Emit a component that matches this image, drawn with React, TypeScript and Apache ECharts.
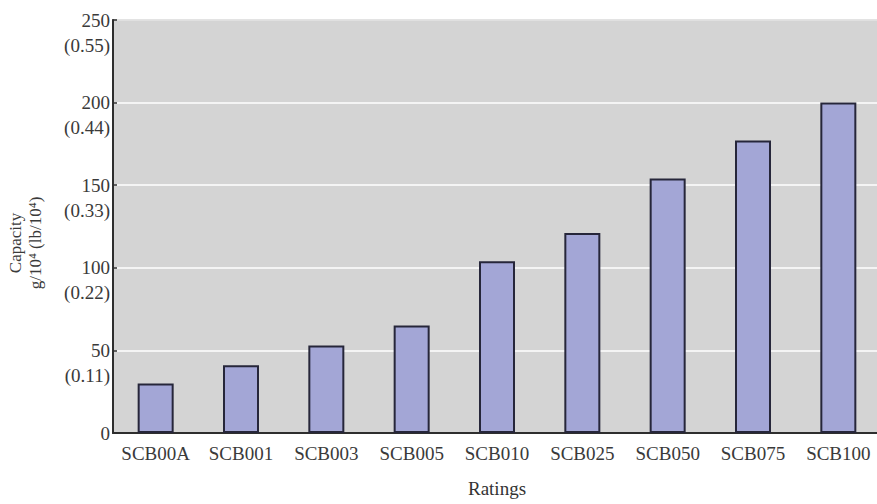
import React, { useEffect, useRef } from "react";
import * as echarts from "echarts";

const categories = ["SCB00A", "SCB001", "SCB003", "SCB005", "SCB010", "SCB025", "SCB050", "SCB075", "SCB100"];
const capacity = [30, 41, 53, 65, 104, 121, 154, 177, 200];
const yTicks = [0, 50, 100, 150, 200, 250];
const yTickSecondary = ["", "(0.11)", "(0.22)", "(0.33)", "(0.44)", "(0.55)"];

export default function App() {
  const ref = useRef<HTMLDivElement>(null);
  useEffect(() => {
    if (!ref.current) return;
    const chart = echarts.init(ref.current, null, { renderer: "svg" });
    const serif = "'Liberation Serif', 'DejaVu Serif', serif";
    chart.setOption({
      animation: false,
      backgroundColor: "#ffffff",
      grid: {
        left: 113,
        top: 20,
        width: 768,
        height: 413,
        outerBoundsMode: "none",
        containLabel: false,
        show: true,
        backgroundColor: "#d4d4d4",
        borderColor: "#6a6a6a",
        borderWidth: 1.5,
      },
      xAxis: {
        type: "category",
        data: categories,
        boundaryGap: true,
        axisLine: { lineStyle: { color: "#2e2e2e", width: 2 } },
        axisTick: { inside: true, length: 4, alignWithLabel: false, lineStyle: { color: "#2e2e2e", width: 1.5 } },
        axisLabel: { color: "#3a3a3a", fontFamily: serif, fontSize: 19, margin: 11, interval: 0 },
        name: "Ratings",
        nameLocation: "middle",
        nameGap: 46,
        nameTextStyle: { color: "#333", fontFamily: serif, fontSize: 19 },
      },
      yAxis: {
        type: "value",
        min: 0,
        max: 250,
        interval: 50,
        axisLine: { show: true, lineStyle: { color: "#2e2e2e", width: 2 } },
        axisTick: { show: true, inside: true, length: 4, lineStyle: { color: "#2e2e2e", width: 1.5 } },
        splitLine: { show: true, lineStyle: { color: "#ffffff", width: 1.5 } },
        axisLabel: {
          color: "#3a3a3a",
          fontFamily: serif,
          fontSize: 19,
          lineHeight: 25,
          margin: 3,
          align: "right",
          formatter: (v: number) => {
            const i = yTicks.indexOf(v);
            const sec = i >= 0 ? yTickSecondary[i] : "";
            if (!sec) return String(v);
            return " \n" + String(v) + "\n" + sec;
          },
        },
      },
      graphic: [
        {
          type: "text",
          x: 15,
          y: 243,
          rotation: Math.PI / 2,
          style: {
            text: "Capacity",
            fontFamily: serif,
            fontSize: 17,
            fill: "#3a3a3a",
            align: "center",
            verticalAlign: "middle",
          },
        },
        {
          type: "text",
          x: 35,
          y: 243,
          rotation: Math.PI / 2,
          style: {
            text: "g/10⁴ (lb/10⁴)",
            fontFamily: serif,
            fontSize: 17,
            fill: "#3a3a3a",
            align: "center",
            verticalAlign: "middle",
          },
        },
      ],
      series: [
        {
          type: "bar",
          data: capacity,
          barWidth: 36,
          itemStyle: { color: "#a3a6d6", borderColor: "#26263a", borderWidth: 2 },
        },
      ],
    });
    return () => chart.dispose();
  }, []);
  return <div ref={ref} style={{ position: "fixed", left: 0, top: 0, width: 877, height: 504 }} />;
}
